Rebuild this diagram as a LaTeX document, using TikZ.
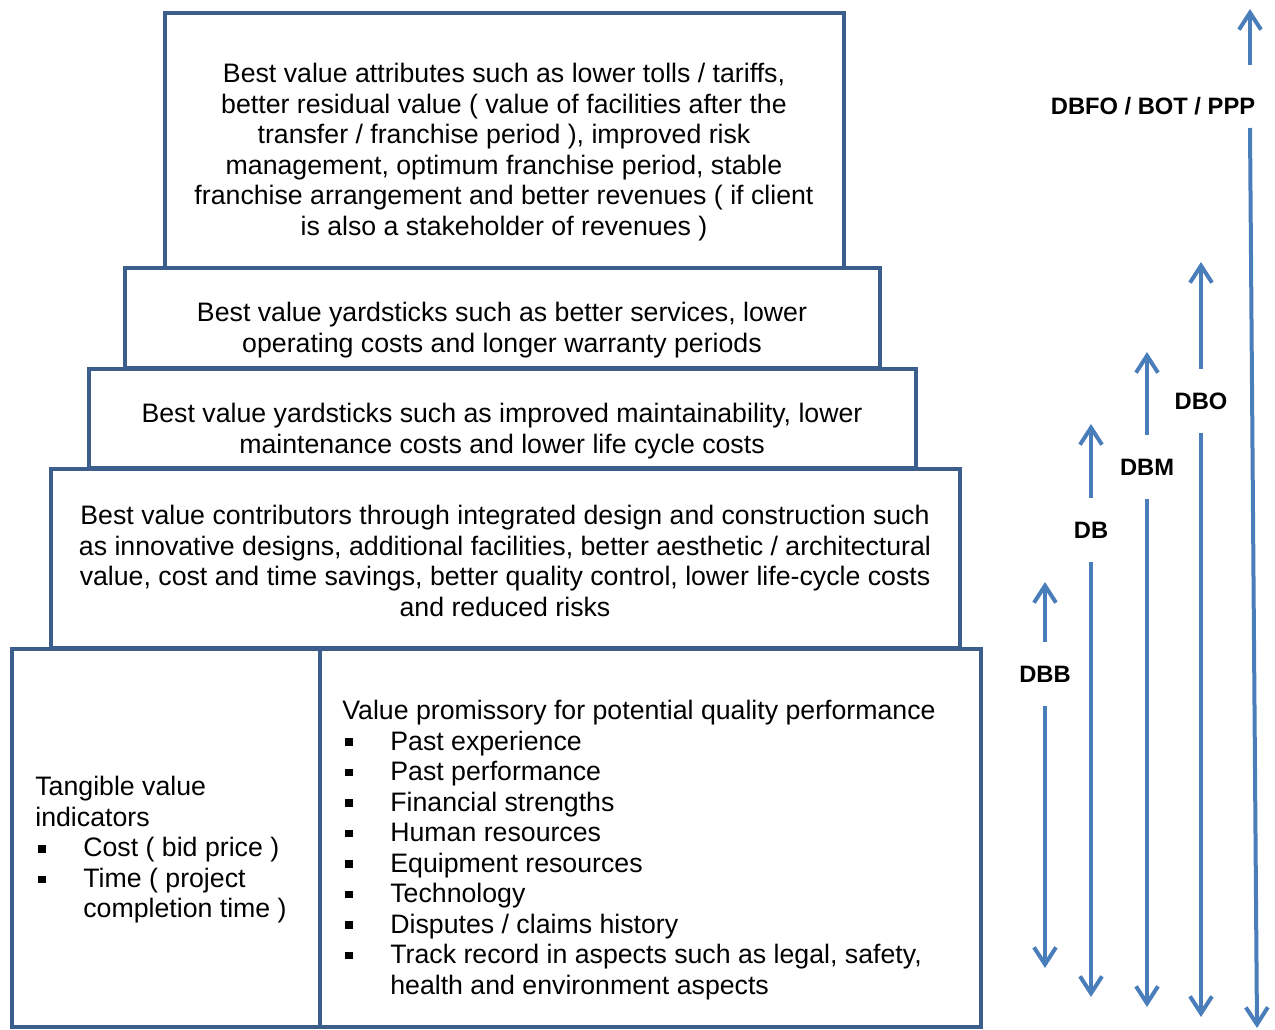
\documentclass[tikz,border=0pt]{standalone}
\usepackage{fontspec}
\setmainfont{Liberation Sans}
\usetikzlibrary{arrows.meta}

\definecolor{boxblue}{HTML}{3C5E8C}
\definecolor{arrblue}{HTML}{4A7EBB}
\newcommand{\sqbul}{\makebox[0.96cm][l]{\hspace{0.06cm}\rule[0.085cm]{0.15cm}{0.15cm}}}
\newcommand{\sqind}{\hspace*{0.96cm}}

\begin{document}
\begin{tikzpicture}[x=0.02cm,y=-0.02cm,
  tier/.style={draw=boxblue,line width=0.08cm},
  txt/.style={font=\fontsize{15.2}{17.35}\selectfont,align=center,inner sep=0pt},
  lst/.style={font=\fontsize{15.2}{17.35}\selectfont,align=left,inner sep=0pt,anchor=west},
  lbl/.style={font=\fontsize{13.5}{16}\selectfont\bfseries,inner sep=0pt,minimum height=1.28cm},
  arr/.style={draw=arrblue,line width=0.08cm,-{Straight Barb[length=0.34cm,width=0.44cm]}}]
  \useasboundingbox (0,0) rectangle (1275,1030);

  % the tiers
  \draw[tier] (165,13) rectangle (844,268);
  \draw[tier] (125,268) rectangle (880,368);
  \draw[tier] (89,369) rectangle (916,468);
  \draw[tier] (51,469) rectangle (960,648);
  \draw[tier] (12,649) rectangle (320,1027);
  \draw[tier] (320,649) rectangle (981,1027);

  \node[txt] (attrib) at (504,152) {Best value attributes such as lower tolls / tariffs,\\
    better residual value ( value of facilities after the\\
    transfer / franchise period ), improved risk\\
    management, optimum franchise period, stable\\
    franchise arrangement and better revenues ( if client\\
    is also a stakeholder of revenues )};
  \node[txt] (operate) at (502,330) {Best value yardsticks such as better services, lower\\
    operating costs and longer warranty periods};
  \node[txt] (maintain) at (502,431) {Best value yardsticks such as improved maintainability, lower\\
    maintenance costs and lower life cycle costs};
  \node[txt] (design) at (505,561) {Best value contributors through integrated design and construction such\\
    as innovative designs, additional facilities, better aesthetic / architectural\\
    value, cost and time savings, better quality control, lower life-cycle costs\\
    and reduced risks};
  \node[lst] (tangible) at (35,850) {Tangible value\\
    indicators\\
    \sqbul Cost ( bid price )\\
    \sqbul Time ( project\\
    \sqind completion time )};
  \node[lst] (promise) at (342,850) {Value promissory for potential quality performance\\
    \sqbul Past experience\\
    \sqbul Past performance\\
    \sqbul Financial strengths\\
    \sqbul Human resources\\
    \sqbul Equipment resources\\
    \sqbul Technology\\
    \sqbul Disputes / claims history\\
    \sqbul Track record in aspects such as legal, safety,\\
    \sqind health and environment aspects};

  % procurement routes
  \node[lbl] (dbb) at (1045,674) {DBB};
  \node[lbl] (db) at (1091,530) {DB};
  \node[lbl] (dbm) at (1147,467) {DBM};
  \node[lbl] (dbo) at (1201,401) {DBO};
  \node[lbl] (dbfo) at (1153,106) {DBFO / BOT / PPP};

  \coordinate (dbbtop) at (1045,582);
  \coordinate (dbbbot) at (1045,968);
  \coordinate (dbtop) at (1091,424);
  \coordinate (dbbot) at (1091,997);
  \coordinate (dbmtop) at (1147,352);
  \coordinate (dbmbot) at (1147,1007);
  \coordinate (dbotop) at (1201,262);
  \coordinate (dbobot) at (1201,1017);
  \coordinate (pppa) at (1250,65);
  \coordinate (ppptop) at (1250,9);
  \coordinate (pppb) at (1250,128);
  \coordinate (pppbot) at (1257,1028);

  \draw[arr] (dbb.north) -- (dbbtop);
  \draw[arr] (dbb.south) -- (dbbbot);
  \draw[arr] (db.north) -- (dbtop);
  \draw[arr] (db.south) -- (dbbot);
  \draw[arr] (dbm.north) -- (dbmtop);
  \draw[arr] (dbm.south) -- (dbmbot);
  \draw[arr] (dbo.north) -- (dbotop);
  \draw[arr] (dbo.south) -- (dbobot);
  \draw[arr] (pppa) -- (ppptop);
  \draw[arr] (pppb) -- (pppbot);
\end{tikzpicture}
\end{document}
